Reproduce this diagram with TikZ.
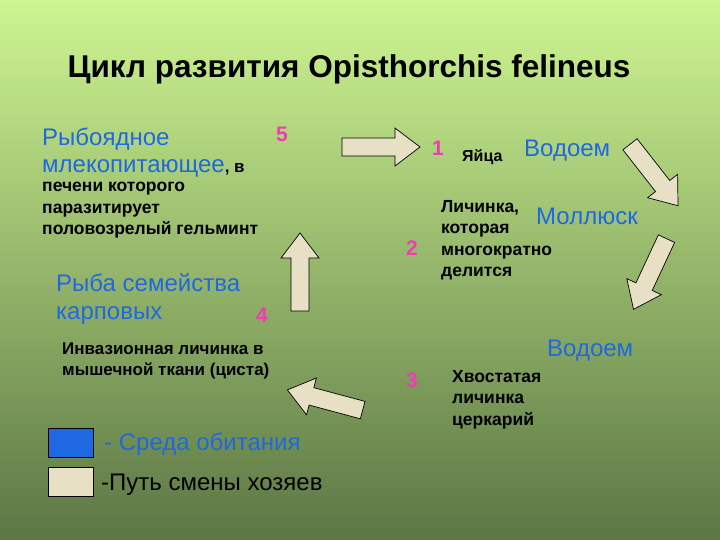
\documentclass[tikz,border=0pt]{standalone}
\usepackage{fontspec}
\setmainfont{Liberation Sans}
\definecolor{blu}{RGB}{30,105,225}
\definecolor{pnk}{RGB}{240,60,180}
\definecolor{beig}{RGB}{232,224,196}
\newcommand\barr[4]{%
  \coordinate (#1) at (#2,#3);
  \begin{scope}[shift={(#1)},rotate=#4]
    \draw[fill=beig,line width=0.7pt,line join=miter] (-39,-9)--(14,-9)--(14,-19)--(39,0)--(14,19)--(14,9)--(-39,9)--cycle;
  \end{scope}}
\begin{document}
\begin{tikzpicture}[x=1pt,y=-1pt,
  blk/.style={anchor=north west,inner sep=0pt,align=left,font=\fontsize{17.5}{21.5}\selectfont\bfseries,text=black},
  bl/.style={anchor=base west,inner sep=0pt,text=blu,font=\fontsize{24}{28}\selectfont},
  num/.style={anchor=base west,inner sep=0pt,text=pnk,font=\fontsize{21}{24}\selectfont\bfseries}]
\shade[top color={rgb,255:red,205;green,245;blue,145},bottom color={rgb,255:red,92;green,118;blue,68}] (0,0) rectangle (720,540);
\useasboundingbox (0,0) rectangle (720,540);
\node[anchor=base,inner sep=0pt,font=\fontsize{31.5}{34}\selectfont\bfseries] (title) at (349,78) {Цикл развития Opisthorchis felineus};
% left
\node[bl] (t1) at (42,146) {Рыбоядное};
\node[bl] (t2) at (42,173) {млекопитающее\textcolor{black}{\fontsize{17}{18}\selectfont\bfseries, в}};
\node[blk] (t3) at (42,182) {печени которого\\паразитирует\\половозрелый гельминт};
\node[num] (n5) at (276,142) {5};
\node[bl] (t4) at (56,291) {Рыба семейства};
\node[bl] (t5) at (56,319) {карповых};
\node[num] (n4) at (256,322) {4};
\node[blk,font=\fontsize{17}{21}\selectfont\bfseries] (t6) at (62,343) {Инвазионная личинка в\\мышечной ткани (циста)};
\node[draw=black,fill=blu,minimum width=45pt,minimum height=29pt,anchor=north west,inner sep=0pt] (lg1) at (48,428) {};
\node[draw=black,fill=beig,minimum width=45pt,minimum height=29pt,anchor=north west,inner sep=0pt] (lg2) at (48,467) {};
\node[bl] (lt1) at (104,450) {- Среда обитания};
\node[bl,text=black] (lt2) at (101,490) {-Путь смены хозяев};
% right
\node[num] (n1) at (432,156) {1};
\node[anchor=base west,inner sep=0pt,font=\fontsize{16}{18}\selectfont\bfseries] (egg) at (462,162) {Яйца};
\node[bl] (w1) at (524,157) {Водоем};
\node[blk] (t7) at (441,200) {Личинка,\\которая\\многократно\\делится};
\node[bl] (m1) at (536,225) {Моллюск};
\node[num] (n2) at (406,255) {2};
\node[bl] (w2) at (547,356) {Водоем};
\node[num] (n3) at (406,387) {3};
\node[blk] (t8) at (452,370) {Хвостатая\\личинка\\церкарий};
% block arrows
\barr{a1}{381}{147}{0}
\barr{a2}{654}{175}{-52}
\barr{a3}{650}{274}{-115}
\barr{a4}{325}{400}{165}
\barr{a5}{300}{272}{90}
\end{tikzpicture}
\end{document}
